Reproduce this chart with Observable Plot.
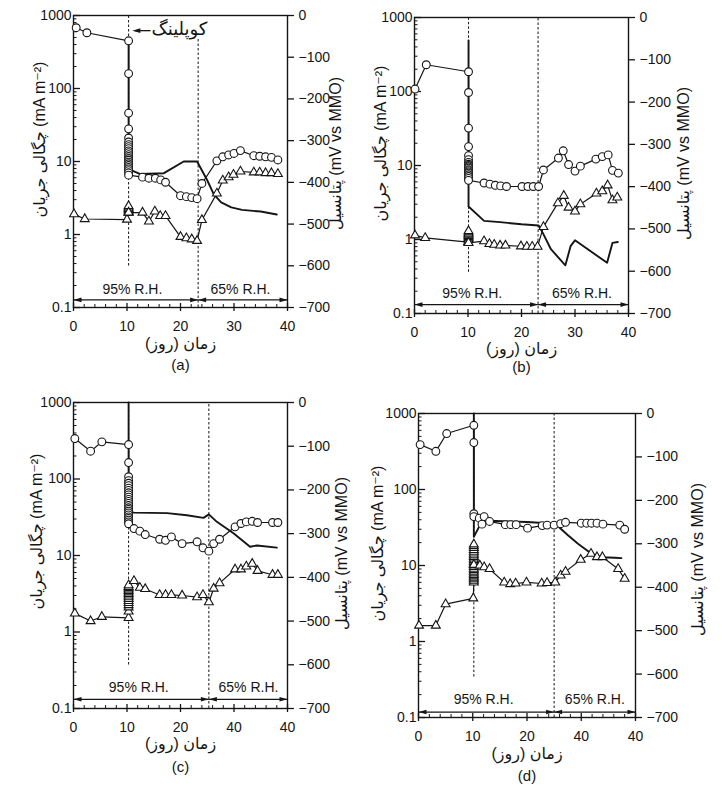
<!DOCTYPE html>
<html><head><meta charset="utf-8">
<script src="https://cdn.jsdelivr.net/npm/d3@7"></script>
<script src="https://cdn.jsdelivr.net/npm/@observablehq/plot@0.6"></script>
<style>
body{margin:0;background:#fff;}
#wrap{position:relative;width:722px;height:790px;background:#fff;overflow:hidden}
#wrap svg{position:absolute}
</style></head><body><div id="wrap"></div>
<script>
// ---------- tick labels / texts ----------
const xTicks = [0, 10, 20, 30, 40];
const xLabelsAB = ["0", "10", "20", "30", "40"];
const xLabelsCD = ["0", "10", "20", "40", "40"];
const xMinor = [2, 4, 6, 8, 12, 14, 16, 18, 22, 24, 26, 28, 32, 34, 36, 38];
const yTicks = [0.1, 1, 10, 100, 1000];
const yLabels = ["0.1", "1", "10", "100", "1000"];
const yMinor = [0.2,0.3,0.4,0.5,0.6,0.7,0.8,0.9,2,3,4,5,6,7,8,9,20,30,40,50,60,70,80,90,200,300,400,500,600,700,800,900];
const potTicks = [0, -100, -200, -300, -400, -500, -600, -700];
const potLabels = ["0", "−100", "−200", "−300", "−400", "−500", "−600", "−700"];
const rhText = ["95% R.H.", "65% R.H."];
const panelLetters = ["(a)", "(b)", "(c)", "(d)"];
const xTitle = "\u200Fزمان (روز)\u200F";
const yTitleLeft = "چگالی جریان (mA m⁻²)";
const yTitleRight = "پتانسیل (mV vs MMO)";
const couplingText = "کوپلینگ";

// ---------- panel (a) ----------
const aCircX = [0.5, 2.5, 10.3, 10.3, 10.3, 10.3, 10.3, 10.3, 10.3, 10.3, 10.3, 10.3, 10.3, 10.3, 10.3, 10.3, 10.3, 10.3, 10.3, 10.3, 10.3, 10.3, 10.3, 10.3, 10.3, 12.9, 14.1, 15.3, 16.3, 17.2, 20.0, 21.1, 22.1, 23.1, 24.0, 26.8, 27.9, 29.0, 30.0, 31.2, 33.7, 34.8, 35.9, 37.0, 38.2];
const aCircY = [680, 580, 450, 160, 46, 28, 21, 18.5, 17, 16, 15, 14, 13.2, 12.4, 11.7, 11, 10.4, 9.8, 9.3, 8.8, 8.3, 7.9, 7.5, 7.0, 6.5, 6.1, 5.9, 5.9, 5.6, 5.2, 3.4, 3.3, 3.2, 3.1, 5.0, 10.2, 11.6, 12.3, 12.9, 14.1, 12.0, 11.8, 11.6, 11.4, 10.5];
const aTriX = [0.1, 2.1, 10.0, 10.3, 10.3, 10.3, 10.3, 10.3, 10.3, 10.3, 12.9, 14.1, 15.2, 16.2, 17.2, 20.0, 21.1, 22.1, 23.1, 24.0, 26.8, 27.9, 29.0, 29.9, 31.2, 33.7, 34.8, 35.9, 37.0, 38.2];
const aTriY = [1.9, 1.63, 1.6, 2.0, 2.08, 2.16, 2.25, 2.35, 2.45, 2.0, 2.0, 1.51, 2.07, 1.8, 1.8, 0.93, 0.89, 0.86, 0.82, 1.58, 3.66, 5.5, 6.1, 6.6, 7.3, 7.1, 7.1, 6.95, 6.95, 6.75];
const aPotX = [10.3, 10.3, 12.5, 16.9, 20.6, 23.1, 25.0, 26.2, 27.6, 29.5, 31.5, 35.0, 38.0];
const aPotY = [-70, -368, -380, -378, -350, -350, -395, -428, -448, -460, -466, -470, -477];

// ---------- panel (b) ----------
const bCircX = [0.1, 2.2, 10.1, 10.1, 10.1, 10.1, 10.1, 10.1, 10.1, 10.1, 10.1, 10.1, 10.1, 10.1, 10.1, 10.1, 10.1, 10.1, 10.1, 10.1, 10.1, 13.0, 14.1, 15.1, 16.1, 17.2, 20.1, 21.2, 22.2, 23.2, 24.1, 26.9, 27.8, 28.8, 30.0, 31.0, 33.9, 35.1, 36.2, 37.0, 38.1];
const bCircY = [108, 230, 185, 97, 32, 18, 13.6, 12, 11, 10.4, 10, 9.6, 9.2, 8.8, 8.5, 8.2, 7.9, 7.5, 7.1, 6.7, 6.3, 5.8, 5.6, 5.4, 5.3, 5.2, 5.2, 5.2, 5.2, 5.2, 8.7, 12.6, 15.8, 10.3, 8.4, 9.8, 12.2, 13.2, 13.9, 8.6, 7.9];
const bTriX = [0.1, 2.0, 10.0, 10.1, 10.1, 10.1, 10.1, 10.1, 10.1, 10.1, 10.1, 10.1, 13.0, 14.0, 14.9, 16.0, 17.0, 19.9, 21.0, 22.0, 23.0, 24.1, 26.8, 27.9, 28.8, 30.0, 31.0, 34.0, 35.1, 36.1, 37.0, 37.9];
const bTriY = [1.14, 1.05, 0.92, 1.0, 1.04, 1.08, 1.12, 1.16, 1.2, 1.25, 1.3, 0.9, 0.95, 0.87, 0.85, 0.83, 0.83, 0.81, 0.8, 0.8, 0.8, 1.48, 3.1, 3.9, 2.7, 2.4, 3.0, 4.2, 4.5, 5.4, 3.4, 3.7];
const bPotX = [10.1, 10.1, 13.0, 16.0, 20.0, 23.2, 24.0, 25.5, 28.2, 29.2, 30.0, 36.0, 37.0, 38.0];
const bPotY = [-54, -447, -481, -484, -489, -492, -510, -548, -586, -540, -527, -580, -533, -531];

// ---------- panel (c) ----------
const cCircX = [0.25, 3.2, 5.3, 10.3, 10.3, 10.3, 10.3, 10.3, 10.3, 10.3, 10.3, 10.3, 10.3, 10.3, 10.3, 10.3, 10.3, 10.3, 10.3, 10.3, 10.3, 10.3, 10.3, 10.3, 10.3, 10.3, 10.3, 10.3, 11.3, 12.4, 13.4, 16.1, 17.2, 18.3, 20.3, 23.1, 24.2, 25.3, 26.2, 27.3, 30.2, 31.3, 32.3, 33.4, 34.4, 37.2, 38.2];
const cCircY = [338, 231, 306, 282, 164, 107, 95, 88, 82, 76, 71, 66, 62, 58, 54, 51, 48, 45, 42, 40, 38, 36, 34, 32, 30.5, 29, 27.5, 26, 22.5, 20.8, 18.8, 16.3, 15.8, 17.5, 14.3, 15.1, 12.6, 11.4, 14.3, 16.3, 23.7, 26.2, 27.5, 28, 27, 27, 27];
const cTriX = [0.25, 3.2, 5.3, 10.3, 10.3, 10.3, 10.3, 10.3, 10.3, 10.3, 10.3, 10.3, 10.3, 10.3, 10.3, 10.3, 10.3, 10.3, 10.3, 11.3, 12.4, 13.4, 16.1, 17.2, 18.3, 20.3, 23.1, 24.2, 25.3, 26.2, 27.3, 30.2, 31.3, 32.3, 33.4, 34.4, 37.2, 38.2];
const cTriY = [1.75, 1.39, 1.58, 1.53, 1.86, 2.1, 2.25, 2.4, 2.55, 2.7, 2.85, 3.0, 3.15, 3.3, 3.45, 3.6, 3.75, 3.9, 4.1, 4.65, 3.8, 3.65, 3.05, 3.05, 3.05, 3.0, 2.85, 3.05, 2.45, 3.7, 4.35, 6.6, 6.6, 7.2, 7.8, 6.3, 5.6, 5.6];
const cPotX = [10.3, 10.3, 11.3, 17.5, 21.2, 24.3, 25.3, 26.8, 29.9, 33.0, 34.3, 38.0];
const cPotY = [0, -250, -252, -253, -258, -264, -256, -273, -299, -330, -327, -332];

// ---------- panel (d) ----------
const dCircX = [0.3, 3.2, 5.2, 10.2, 10.2, 10.2, 10.2, 11.2, 11.7, 12.1, 13.1, 16.0, 17.0, 18.0, 20.1, 22.8, 23.7, 25.0, 26.2, 27.1, 30.0, 31.0, 31.9, 32.9, 34.0, 37.1, 38.0];
const dCircY = [390, 318, 545, 700, 415, 48, 44, 42, 35, 44, 38, 34.5, 34.5, 34.5, 31, 33.5, 34, 34, 35.5, 37, 36, 36, 36, 36, 35, 34, 30];
const dTriX = [0.1, 3.2, 5.0, 10.1, 10.2, 10.2, 10.2, 10.2, 10.2, 10.2, 10.2, 10.2, 10.2, 10.2, 10.2, 10.2, 10.2, 10.2, 10.2, 10.2, 10.2, 10.2, 10.2, 10.2, 10.2, 10.2, 10.2, 10.2, 10.2, 11.3, 12.1, 13.1, 15.8, 16.9, 17.9, 19.9, 22.7, 23.7, 25.2, 26.2, 27.1, 29.9, 31.8, 32.9, 33.9, 36.8, 38.0];
const dTriY = [1.62, 1.62, 3.1, 3.7, 6.0, 6.3, 6.6, 6.9, 7.2, 7.5, 7.9, 8.3, 8.7, 9.1, 9.6, 10.1, 10.6, 11.2, 11.8, 12.4, 13, 13.7, 14.4, 15.2, 16, 17, 18, 19, 10.2, 10, 9.5, 9.0, 6.0, 5.7, 5.8, 6.0, 5.8, 5.9, 6.0, 7.4, 8.3, 11.9, 14.3, 12.9, 12.9, 9.0, 6.7];
const dPotX = [10.2, 10.2, 11.5, 13.0, 20.0, 25.2, 27.6, 29.4, 31.9, 33.7, 36.2, 37.4];
const dPotY = [0, -284, -253, -247, -250, -254, -281, -300, -323, -331, -332, -333];

// ---------- events per panel (a, b, c, d) ----------
const couplingDay = [10.3, 10.1, 10.3, 10.2];
const couplingLineBottom = [0.37, 0.36, 0.37, 0.34];
const humidityChangeDay = [23.3, 23.1, 25.3, 25.0];
const humidityLineTop = [480, 1000, 1000, 1000];
const humidityArrowLevel = [0.127, 0.132, 0.132, 0.118];
const rh95Day = [11.0, 10.8, 12.2, 12.0];
const rh65Day = [31.2, 31.3, 32.7, 32.5];
const rhLevel = [0.178, 0.186, 0.19, 0.175];

// ---------- helpers ----------
const toY = p => Math.pow(10, -1 + 4 * (p + 700) / 700); // potential (mV) -> left-axis position
const fromY = y => Math.round((Math.log10(y) + 1) * 175 - 700);
const potTickY = potTicks.map(toY);
const potLabel = y => potLabels[potTicks.indexOf(fromY(y))];
const FONT = "'Liberation Sans', Arimo, Arial, 'DejaVu Sans', sans-serif";
const ink = "#151515";
const blank = () => "";
const headShape = {draw(ctx, l) { ctx.moveTo(0, -l); ctx.lineTo(-2.3, 0); ctx.lineTo(2.3, 0); ctx.closePath(); }};

const layouts = [
  {left: 0,   top: 0,   mt: 15, mr: 74, mb: 88, ml: 73, xl: xLabelsAB, lDx: -34, lDy: -22, rDx: 48, rDy: -8, tDy: 41, pDy: 62},
  {left: 361, top: 0,   mt: 17, mr: 94, mb: 82, ml: 53, xl: xLabelsAB, lDx: -34, lDy: -22, rDx: 55, rDy: -2, tDy: 40, pDy: 58},
  {left: 0,   top: 395, mt: 7,  mr: 74, mb: 82, ml: 73, xl: xLabelsCD, lDx: -37, lDy: -24, rDx: 54, rDy: -2, tDy: 40, pDy: 63},
  {left: 361, top: 395, mt: 18, mr: 87, mb: 73, ml: 57, xl: xLabelsCD, lDx: -41, lDy: -22, rDx: 62, rDy: -6, tDy: 41, pDy: 63}
];
const series = [
  [aCircX, aCircY, aTriX, aTriY, aPotX, aPotY],
  [bCircX, bCircY, bTriX, bTriY, bPotX, bPotY],
  [cCircX, cCircY, cTriX, cTriY, cPotX, cPotY],
  [dCircX, dCircY, dTriX, dTriY, dPotX, dPotY]
];

function makePanel(k) {
  const L = layouts[k];
  const [cx, cy, tx, ty, px, py] = series[k];
  const circ = cx.map((x, i) => ({x, y: cy[i]}));
  const tri = tx.map((x, i) => ({x, y: ty[i]}));
  const pot = px.map((x, i) => ({x, y: toY(py[i])}));
  const split = humidityChangeDay[k];
  const lvl = humidityArrowLevel[k];
  const segs = [{x1: 0, x2: split}, {x1: split, x2: 40}];
  const rh = [{x: rh95Day[k], t: rhText[0]}, {x: rh65Day[k], t: rhText[1]}];
  const marks = [
    Plot.ruleX([couplingDay[k]], {y1: couplingLineBottom[k], y2: 1000, stroke: ink, strokeWidth: 1, strokeDasharray: "2.5,2"}),
    Plot.ruleX([split], {y1: 0.1, y2: humidityLineTop[k], stroke: ink, strokeWidth: 1, strokeDasharray: "2.5,2"}),
    Plot.frame({stroke: ink, strokeWidth: 1.4}),
    Plot.axisX({ticks: xTicks, tickSize: 0, tickPadding: 14, text: d => L.xl[xTicks.indexOf(d)], label: null, fontSize: 14, fill: ink}),
    Plot.axisX({ticks: xTicks, tickSize: 4, tickFormat: blank, label: null, stroke: ink, strokeWidth: 1.3}),
    Plot.axisX({ticks: xTicks, tickSize: -4, tickFormat: blank, label: null, stroke: ink, strokeWidth: 1.3}),
    Plot.axisX({ticks: xMinor, tickSize: -3, tickFormat: blank, label: null, stroke: ink}),
    Plot.axisY({ticks: yTicks, tickSize: 0, tickPadding: 2, text: d => yLabels[yTicks.indexOf(d)], label: null, fontSize: 14, fill: ink}),
    Plot.axisY({ticks: yTicks, tickSize: -7, tickFormat: blank, label: null, stroke: ink, strokeWidth: 1.3}),
    Plot.axisY({ticks: yMinor, tickSize: -3.5, tickFormat: blank, label: null, stroke: ink}),
    Plot.axisY({anchor: "right", ticks: potTickY, tickSize: 6, tickPadding: 5, text: potLabel, label: null, fontSize: 14, fill: ink, stroke: ink, strokeWidth: 1.3}),
    // humidity double arrows
    Plot.link(segs, {x1: "x1", x2: "x2", y1: lvl, y2: lvl, stroke: ink, strokeWidth: 1.3}),
    Plot.vector([0, split], {x: d => d, y: lvl, length: 8, rotate: -90, anchor: "end", shape: headShape, fill: ink, stroke: "none"}),
    Plot.vector([split, 40], {x: d => d, y: lvl, length: 8, rotate: 90, anchor: "end", shape: headShape, fill: ink, stroke: "none"}),
    Plot.text(rh, {x: "x", y: rhLevel[k], text: "t", fontSize: 14, fill: ink}),
    // series
    Plot.line(tri, {x: "x", y: "y", stroke: ink, strokeWidth: 1.2}),
    Plot.line(circ, {x: "x", y: "y", stroke: ink, strokeWidth: 1.2}),
    Plot.line(pot, {x: "x", y: "y", stroke: ink, strokeWidth: 1.9}),
    Plot.dot(tri, {x: "x", y: "y", symbol: "triangle", r: 3.3, fill: "white", stroke: ink, strokeWidth: 1.1}),
    Plot.dot(circ, {x: "x", y: "y", r: 3.9, fill: "white", stroke: ink, strokeWidth: 1.1}),
    // titles
    Plot.text([yTitleLeft], {frameAnchor: "left", textAnchor: "middle", rotate: -90, dx: L.lDx, dy: L.lDy, fontSize: 16, fill: ink}),
    Plot.text([yTitleRight], {frameAnchor: "right", textAnchor: "middle", rotate: -90, dx: L.rDx, dy: L.rDy, fontSize: 16, fill: ink}),
    Plot.text([xTitle], {frameAnchor: "bottom", dy: L.tDy, fontSize: 16, fill: ink}),
    Plot.text([panelLetters[k]], {frameAnchor: "bottom", dy: L.pDy, fontSize: 15, fill: ink})
  ];
  if (k === 0) {
    marks.push(
      Plot.link([0], {x1: 14.4, x2: 11.6, y1: 620, y2: 620, stroke: ink, strokeWidth: 1.3}),
      Plot.vector([11.0], {x: d => d, y: 620, length: 8, rotate: -90, anchor: "end", shape: headShape, fill: ink, stroke: "none"}),
      Plot.text([couplingText], {x: 14.6, y: 650, textAnchor: "start", fontSize: 18, fill: ink})
    );
  }
  const svg = Plot.plot({
    width: 361, height: 395,
    marginTop: L.mt, marginRight: L.mr, marginBottom: L.mb, marginLeft: L.ml,
    x: {domain: [0, 40]},
    y: {type: "log", domain: [0.1, 1000]},
    style: {fontFamily: FONT, fontSize: "14px", background: "transparent", color: ink},
    marks
  });
  svg.style.left = L.left + "px";
  svg.style.top = L.top + "px";
  return svg;
}
const wrap = document.getElementById("wrap");
for (let k = 0; k < 4; k++) wrap.appendChild(makePanel(k));
</script></body></html>
